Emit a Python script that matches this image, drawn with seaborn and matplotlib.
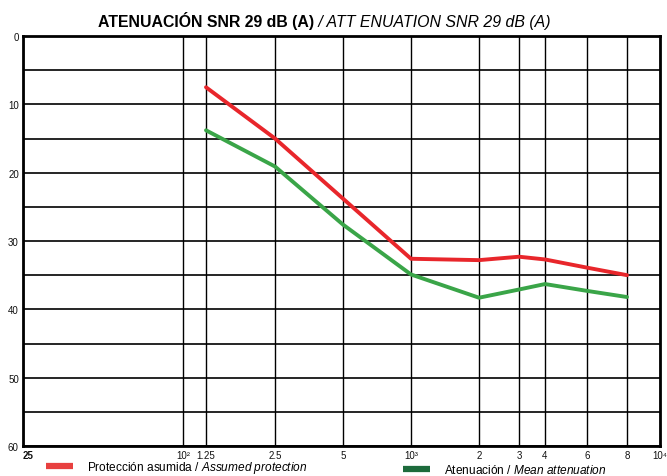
import matplotlib
matplotlib.use("Agg")
import matplotlib.pyplot as plt
import seaborn as sns
import numpy as np
import pandas as pd
from matplotlib.lines import Line2D

# Frequencies (Hz) and attenuation values (dB)
freqs = [125, 250, 500, 1000, 2000, 3000, 4000, 6000, 8000]
assumed_protection = [7.5, 15.0, 23.8, 32.6, 32.8, 32.3, 32.7, 33.9, 35.0]
mean_attenuation = [13.8, 19.1, 27.6, 34.9, 38.3, 37.1, 36.3, 37.3, 38.2]

tick_freqs = [25, 100, 125, 250, 500, 1000, 2000, 3000, 4000, 6000, 8000, 10000]
tick_labels = ['25', '10²', '1.25', '2.5', '5', '10³', '2', '3', '4', '6', '8', '10⁴']
y_major = [0, 10, 20, 30, 40, 50, 60]

title_es = "ATENUACIÓN SNR 29 dB (A)"
title_en = " / ATT ENUATION SNR 29 dB (A)"
label_red = "Protección asumida / $\\it{Assumed\\ protection}$"
label_green = "Atenuación / $\\it{Mean\\ attenuation}$"

sns.set_style("white")
plt.rcParams['font.family'] = ['Liberation Sans', 'DejaVu Sans']
plt.rcParams['text.color'] = 'black'
plt.rcParams['mathtext.fontset'] = 'custom'
plt.rcParams['mathtext.rm'] = 'Liberation Sans'
plt.rcParams['mathtext.it'] = 'Liberation Sans:italic'
plt.rcParams['mathtext.bf'] = 'Liberation Sans:bold'

# chart axis is a hand-drawn audiogram-like axis: piecewise log spacing
axis_pos = [0, 160, 183, 252, 320, 388, 456, 496, 522, 564, 604, 637]
log_ticks = np.log10(tick_freqs)

def fwd(f):
    f = np.clip(np.asarray(f, dtype=float), 1e-6, None)
    return np.interp(np.log10(f), log_ticks, axis_pos)

def inv(p):
    return 10 ** np.interp(np.asarray(p, dtype=float), axis_pos, log_ticks)

fig = plt.figure(figsize=(6.67, 4.77), dpi=100)
ax = fig.add_axes([23 / 667, 1 - 447 / 477, 637 / 667, 410 / 477])
ax.set_xscale('function', functions=(fwd, inv))

df = pd.DataFrame({'freq': freqs, 'assumed': assumed_protection, 'mean': mean_attenuation})
sns.lineplot(data=df, x='freq', y='assumed', color='#e8262b', lw=2.8, ax=ax, zorder=3)
sns.lineplot(data=df, x='freq', y='mean', color='#3aa548', lw=2.8, ax=ax, zorder=3)

ax.set_xlim(25, 10000)
ax.set_ylim(60, 0)
ax.set_xlabel('')
ax.set_ylabel('')

ax.set_xticks(tick_freqs)
ax.set_xticklabels(tick_labels)
ax.set_yticks(y_major)
ax.set_yticks(np.arange(5, 60, 10), minor=True)
ax.tick_params(axis='both', which='both', length=0, labelsize=7, colors='#111111')
ax.tick_params(axis='x', pad=3)
ax.tick_params(axis='y', pad=3)

first = ax.get_xticklabels()[0]
first.set_ha('left')
first.set_fontweight('bold')

ax.grid(True, axis='y', which='both', color='black', lw=1.2)
ax.grid(True, axis='x', which='major', color='black', lw=1.0)
for s in ax.spines.values():
    s.set_color('black')
    s.set_linewidth(2)

# title in two styles
t1 = fig.text(98 / 667, 1 - 27 / 477, title_es, fontsize=11.4, fontweight='bold',
              ha='left', va='baseline', color='black')
fig.canvas.draw()
bb = t1.get_window_extent()
fig.text(bb.x1 / fig.bbox.width, 1 - 27 / 477, title_en, fontsize=11.4, fontstyle='italic',
         ha='left', va='baseline', color='black')

# legend entries
h_red = Line2D([], [], color='#e8403f', lw=4.5, solid_capstyle='butt')
h_green = Line2D([], [], color='#1d6b3c', lw=4.5, solid_capstyle='butt')
leg_kw = dict(frameon=False, fontsize=8.6, borderpad=0, borderaxespad=0,
              handlelength=2.3, handletextpad=1.1, loc='lower left')
leg1 = fig.legend([h_red], [label_red], bbox_to_anchor=(46 / 667, 1 / 477), **leg_kw)
leg2 = fig.legend([h_green], [label_green], bbox_to_anchor=(403 / 667, 0), **leg_kw)

fig.savefig('out.png', dpi=100)
plt.close(fig)
